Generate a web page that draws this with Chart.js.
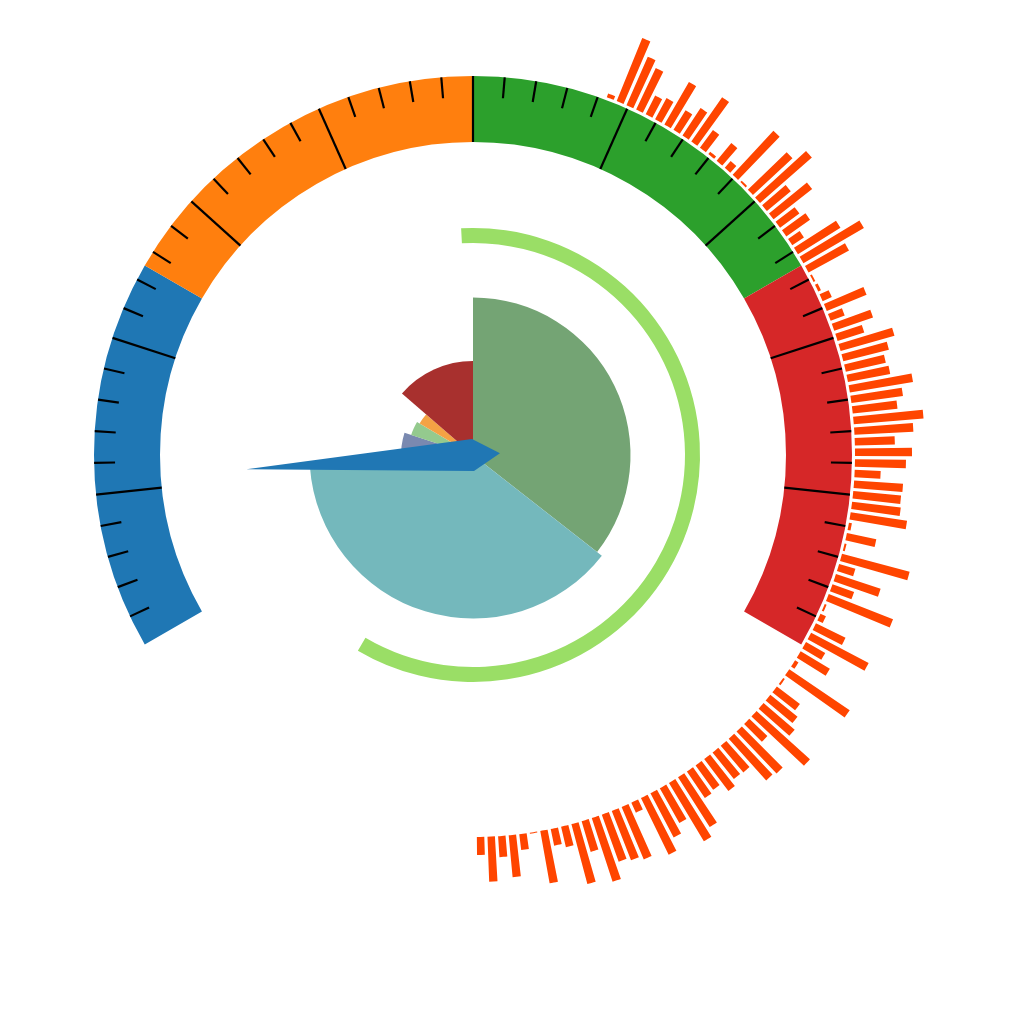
<!DOCTYPE html>
<html>
<head>
<meta charset="utf-8">
<script src="https://cdn.jsdelivr.net/npm/chart.js@4.4.1/dist/chart.umd.min.js"></script>
<style>
  html, body { margin: 0; padding: 0; background: #ffffff; }
  #wrap { position: relative; width: 1024px; height: 1024px; }
  #wrap canvas { position: absolute; left: 0; top: 0; }
</style>
</head>
<body>
<div id="wrap">
  <canvas id="bars" width="1024" height="1024"></canvas>
  <canvas id="gauge" width="1024" height="1024"></canvas>
  <canvas id="progress" width="1024" height="1024"></canvas>
  <canvas id="rose" width="1024" height="1024"></canvas>
</div>
<script>
// ---------------- data ----------------
// Gauge (outer coloured ring)
const gaugeMin = 0;
const gaugeMax = 100;
const gaugeStartAngle = -120;   // degrees from 12 o'clock
const gaugeSweep = 240;         // degrees
const gaugeBandLimits = [25, 50, 75, 100];
const gaugeBandColors = ['#1f77b4', '#ff7f0e', '#2ca02c', '#d62728'];
const majorTickValues = [10, 20, 30, 40, 50, 60, 70, 80, 90];
const minorTickStep = 2;
const needleValue = 11;

// Progress arc
const progressValue = 59.3;       // percent of a full turn
const progressStartAngle = -3;
const progressColor = '#9ade66';

// Inner rose (unequal angles, unequal radii)
const roseLabels = ['A', 'B', 'C', 'D', 'E', 'F'];
const roseAngles = [128, 138, 22, 12.6, 10.3, 49.1];
const roseValues = [157.5, 163.5, 72, 65, 62, 94];
const roseColors = ['#74a474', '#74b8bc', '#7a89b0', '#94ca8e', '#f4a244', '#a8302e'];

// Outer radial bars
const barValues = [
  4, 68, 53, 46, 21, 24, 49, 23, 33, 54,
  22, 3, 23, 9, 60, 2, 54, 69, 31, 49,
  24, 29, 14, 50, 70, 46, 2, 3, 10, 43,
  15, 41, 28, 56, 47, 41, 43, 64, 52, 45,
  70, 59, 40, 57, 51, 26, 49, 48, 49, 57,
  3, 30, 2, 70, 17, 47, 23, 69, 2, 6,
  33, 65, 22, 34, 4, 73, 2, 29, 35, 41,
  72, 25, 58, 56, 35, 34, 40, 30, 32, 59,
  68, 40, 50, 63, 11, 57, 53, 50, 67, 32,
  62, 21, 17, 53, 1, 16, 42, 21, 45, 18
];
const barStartAngle = 20.5;
const barPitch = 1.594;
const barFillRatio = 0.7;
const barColor = '#ff4500';

// ---------------- layout / style ----------------
const PAD = { left: 0, top: 0, right: 78, bottom: 114 };
const GAUGE_OUTER = 379, GAUGE_INNER = 313;
const PROG_OUTER = 227, PROG_INNER = 212;
const BAR_BASE = 382;
const RADIAL_SPAN = 455;
const MINOR_LEN = 21;
const TICK_WIDTH = 2.2;
const NEEDLE_LEN = 227, NEEDLE_TAIL = 27, NEEDLE_HALF = 16;
const NEEDLE_COLOR = '#2077b4';

const baseOpts = {
  responsive: false,
  animation: false,
  events: [],
  layout: { padding: PAD },
  plugins: { legend: { display: false }, tooltip: { enabled: false } }
};

function valueToAngle(v) {
  return gaugeStartAngle + (v - gaugeMin) / (gaugeMax - gaugeMin) * gaugeSweep;
}
function polar(cx, cy, r, deg) {
  const a = deg * Math.PI / 180;
  return [cx + r * Math.sin(a), cy - r * Math.cos(a)];
}

// ---------------- outer bars (polarArea) ----------------
const barSeries = [];
const barLabels = [];
barValues.forEach((v, i) => {
  barSeries.push(v, 0);
  barLabels.push('b' + i, '');
});
const barAngle = barPitch * barFillRatio;
const gapAngle = barPitch - barAngle;

const barBasePlugin = {
  id: 'barBase',
  beforeDatasetsDraw(chart) {
    const scale = chart.scales.r;
    const r0 = scale.getDistanceFromCenterForValue(0);
    chart.getDatasetMeta(0).data.forEach(el => { el.innerRadius = r0; });
  }
};

new Chart(document.getElementById('bars'), {
  type: 'polarArea',
  data: {
    labels: barLabels,
    datasets: [{
      data: barSeries,
      angle: ctx => (ctx.dataIndex % 2 === 0 ? barAngle : gapAngle),
      backgroundColor: ctx => (ctx.dataIndex % 2 === 0 ? barColor : 'rgba(0,0,0,0)'),
      borderWidth: 0
    }]
  },
  options: Object.assign({}, baseOpts, {
    scales: {
      r: {
        display: false,
        min: -BAR_BASE,
        max: RADIAL_SPAN - BAR_BASE,
        startAngle: barStartAngle,
        ticks: { display: false }
      }
    }
  }),
  plugins: [barBasePlugin]
});

// ---------------- gauge ring (doughnut) ----------------
const gaugeBandSizes = gaugeBandLimits.map((l, i) => l - (i ? gaugeBandLimits[i - 1] : gaugeMin));
const gaugeRest = (gaugeMax - gaugeMin) * (360 - gaugeSweep) / gaugeSweep;

const minorTickValues = [];
for (let v = gaugeMin + minorTickStep; v < gaugeMax; v += minorTickStep) {
  if (!majorTickValues.includes(v)) minorTickValues.push(v);
}

const tickPlugin = {
  id: 'gaugeTicks',
  afterDatasetsDraw(chart) {
    const el = chart.getDatasetMeta(0).data[0];
    const cx = el.x, cy = el.y, R = el.outerRadius, r = el.innerRadius;
    const ctx = chart.ctx;
    ctx.save();
    ctx.strokeStyle = '#000000';
    ctx.lineWidth = TICK_WIDTH;
    ctx.lineCap = 'butt';
    majorTickValues.forEach(v => {
      const a = valueToAngle(v);
      const p1 = polar(cx, cy, R, a), p2 = polar(cx, cy, r, a);
      ctx.beginPath(); ctx.moveTo(p1[0], p1[1]); ctx.lineTo(p2[0], p2[1]); ctx.stroke();
    });
    minorTickValues.forEach(v => {
      const a = valueToAngle(v);
      const p1 = polar(cx, cy, R, a), p2 = polar(cx, cy, R - MINOR_LEN, a);
      ctx.beginPath(); ctx.moveTo(p1[0], p1[1]); ctx.lineTo(p2[0], p2[1]); ctx.stroke();
    });
    ctx.restore();
  }
};

new Chart(document.getElementById('gauge'), {
  type: 'doughnut',
  data: {
    labels: ['b1', 'b2', 'b3', 'b4', 'rest'],
    datasets: [{
      data: gaugeBandSizes.concat([gaugeRest]),
      backgroundColor: gaugeBandColors.concat(['rgba(0,0,0,0)']),
      borderWidth: 0
    }]
  },
  options: Object.assign({}, baseOpts, {
    radius: GAUGE_OUTER,
    cutout: (GAUGE_INNER / GAUGE_OUTER * 100) + '%',
    rotation: gaugeStartAngle,
    circumference: 360
  }),
  plugins: [tickPlugin]
});

// ---------------- progress arc ----------------
new Chart(document.getElementById('progress'), {
  type: 'doughnut',
  data: {
    labels: ['done', 'rest'],
    datasets: [{
      data: [progressValue, 100 - progressValue],
      backgroundColor: [progressColor, 'rgba(0,0,0,0)'],
      borderWidth: 0
    }]
  },
  options: Object.assign({}, baseOpts, {
    radius: PROG_OUTER,
    cutout: (PROG_INNER / PROG_OUTER * 100) + '%',
    rotation: progressStartAngle,
    circumference: 360
  })
});

// ---------------- rose + needle ----------------
const needlePlugin = {
  id: 'needle',
  afterDatasetsDraw(chart) {
    const scale = chart.scales.r;
    const cx = scale.xCenter, cy = scale.yCenter;
    const a = valueToAngle(needleValue);
    const tip = polar(cx, cy, NEEDLE_LEN, a);
    const tail = polar(cx, cy, -NEEDLE_TAIL, a);
    const s1 = polar(cx, cy, NEEDLE_HALF, a + 90);
    const s2 = polar(cx, cy, NEEDLE_HALF, a - 90);
    const ctx = chart.ctx;
    ctx.save();
    ctx.fillStyle = NEEDLE_COLOR;
    ctx.beginPath();
    ctx.moveTo(tip[0], tip[1]);
    ctx.lineTo(s1[0], s1[1]);
    ctx.lineTo(tail[0], tail[1]);
    ctx.lineTo(s2[0], s2[1]);
    ctx.closePath();
    ctx.fill();
    ctx.restore();
  }
};

new Chart(document.getElementById('rose'), {
  type: 'polarArea',
  data: {
    labels: roseLabels,
    datasets: [{
      data: roseValues,
      angle: roseAngles,
      backgroundColor: roseColors,
      borderWidth: 0
    }]
  },
  options: Object.assign({}, baseOpts, {
    scales: {
      r: {
        display: false,
        min: 0,
        max: RADIAL_SPAN,
        startAngle: 0,
        ticks: { display: false }
      }
    }
  }),
  plugins: [needlePlugin]
});
</script>
</body>
</html>
